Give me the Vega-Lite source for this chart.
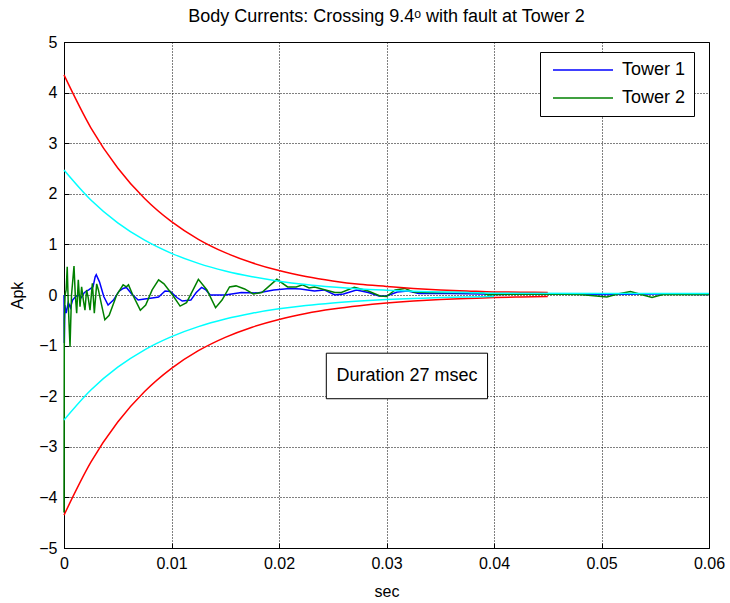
{
  "$schema": "https://vega.github.io/schema/vega-lite/v6.json",
  "autosize": "none",
  "width": 645,
  "height": 506,
  "padding": {"left": 64, "top": 42, "right": 21, "bottom": 55},
  "background": "white",
  "config": {
    "font": "Liberation Sans",
    "view": {"stroke": "black", "strokeWidth": 1},
    "axis": {
      "domainColor": "black", "tickColor": "black", "labelColor": "black", "titleColor": "black",
      "labelFontSize": 16, "titleFontSize": 16, "titleFontWeight": "normal",
      "grid": true, "gridColor": "black", "gridDash": [1, 2], "gridOpacity": 1, "gridWidth": 1,
      "tickSize": -5, "labelPadding": 12, "labelFlush": false
    }
  },
  "title": {"text": "Body Currents: Crossing 9.4ᵒ with fault at Tower 2", "fontSize": 18, "fontWeight": "normal", "offset": 8, "color": "black"},
  "datasets": {
    "towers": [
      {"t":0,"v":0,"tower":"Tower 1"},{"t":0.00003,"v":-0.95,"tower":"Tower 1"},{"t":0.00008,"v":-0.2,"tower":"Tower 1"},{"t":0.0002,"v":-0.36,"tower":"Tower 1"},{"t":0.0004,"v":-0.15,"tower":"Tower 1"},{"t":0.0006,"v":-0.25,"tower":"Tower 1"},{"t":0.0008,"v":-0.1,"tower":"Tower 1"},{"t":0.001,"v":-0.05,"tower":"Tower 1"},{"t":0.0013,"v":0.0,"tower":"Tower 1"},{"t":0.0016,"v":-0.05,"tower":"Tower 1"},{"t":0.0019,"v":0.05,"tower":"Tower 1"},{"t":0.0023,"v":0.1,"tower":"Tower 1"},{"t":0.0027,"v":0.16,"tower":"Tower 1"},{"t":0.0029,"v":0.36,"tower":"Tower 1"},{"t":0.003,"v":0.4,"tower":"Tower 1"},{"t":0.0033,"v":0.26,"tower":"Tower 1"},{"t":0.0037,"v":-0.03,"tower":"Tower 1"},{"t":0.0041,"v":-0.2,"tower":"Tower 1"},{"t":0.0046,"v":-0.1,"tower":"Tower 1"},{"t":0.0051,"v":0.07,"tower":"Tower 1"},{"t":0.0055,"v":0.13,"tower":"Tower 1"},{"t":0.0058,"v":0.15,"tower":"Tower 1"},{"t":0.0063,"v":0.02,"tower":"Tower 1"},{"t":0.0069,"v":-0.1,"tower":"Tower 1"},{"t":0.0075,"v":-0.08,"tower":"Tower 1"},{"t":0.0082,"v":-0.06,"tower":"Tower 1"},{"t":0.0088,"v":-0.04,"tower":"Tower 1"},{"t":0.0094,"v":0.08,"tower":"Tower 1"},{"t":0.0099,"v":0.07,"tower":"Tower 1"},{"t":0.0105,"v":-0.05,"tower":"Tower 1"},{"t":0.011,"v":-0.12,"tower":"Tower 1"},{"t":0.0118,"v":-0.1,"tower":"Tower 1"},{"t":0.0123,"v":0.05,"tower":"Tower 1"},{"t":0.0128,"v":0.15,"tower":"Tower 1"},{"t":0.0132,"v":0.1,"tower":"Tower 1"},{"t":0.0136,"v":0.0,"tower":"Tower 1"},{"t":0.015,"v":0.0,"tower":"Tower 1"},{"t":0.0165,"v":0.05,"tower":"Tower 1"},{"t":0.018,"v":0.04,"tower":"Tower 1"},{"t":0.0195,"v":0.1,"tower":"Tower 1"},{"t":0.021,"v":0.13,"tower":"Tower 1"},{"t":0.022,"v":0.12,"tower":"Tower 1"},{"t":0.0233,"v":0.08,"tower":"Tower 1"},{"t":0.0242,"v":0.1,"tower":"Tower 1"},{"t":0.0252,"v":0.0,"tower":"Tower 1"},{"t":0.026,"v":0.02,"tower":"Tower 1"},{"t":0.0272,"v":0.1,"tower":"Tower 1"},{"t":0.0283,"v":0.05,"tower":"Tower 1"},{"t":0.0293,"v":-0.02,"tower":"Tower 1"},{"t":0.03,"v":-0.02,"tower":"Tower 1"},{"t":0.031,"v":0.06,"tower":"Tower 1"},{"t":0.032,"v":0.08,"tower":"Tower 1"},{"t":0.033,"v":0.03,"tower":"Tower 1"},{"t":0.036,"v":0.03,"tower":"Tower 1"},{"t":0.039,"v":0.02,"tower":"Tower 1"},{"t":0.04,"v":0.01,"tower":"Tower 1"},{"t":0.045,"v":0.02,"tower":"Tower 1"},{"t":0.05,"v":0.01,"tower":"Tower 1"},{"t":0.055,"v":0.02,"tower":"Tower 1"},{"t":0.06,"v":0.01,"tower":"Tower 1"},
      {"t":0,"v":-4.3,"tower":"Tower 2"},{"t":0.00003,"v":-0.5,"tower":"Tower 2"},{"t":0.0001,"v":0.0,"tower":"Tower 2"},{"t":0.0002,"v":0.1,"tower":"Tower 2"},{"t":0.0003,"v":0.56,"tower":"Tower 2"},{"t":0.0004,"v":-0.2,"tower":"Tower 2"},{"t":0.00056,"v":-1.02,"tower":"Tower 2"},{"t":0.0007,"v":0.0,"tower":"Tower 2"},{"t":0.00093,"v":0.57,"tower":"Tower 2"},{"t":0.00105,"v":0.0,"tower":"Tower 2"},{"t":0.00118,"v":-0.36,"tower":"Tower 2"},{"t":0.00133,"v":0.3,"tower":"Tower 2"},{"t":0.00149,"v":-0.23,"tower":"Tower 2"},{"t":0.00164,"v":0.16,"tower":"Tower 2"},{"t":0.0018,"v":-0.1,"tower":"Tower 2"},{"t":0.00195,"v":-0.3,"tower":"Tower 2"},{"t":0.0021,"v":0.1,"tower":"Tower 2"},{"t":0.00225,"v":-0.05,"tower":"Tower 2"},{"t":0.00242,"v":-0.3,"tower":"Tower 2"},{"t":0.00264,"v":0.23,"tower":"Tower 2"},{"t":0.00282,"v":-0.36,"tower":"Tower 2"},{"t":0.00304,"v":0.22,"tower":"Tower 2"},{"t":0.0032,"v":0.1,"tower":"Tower 2"},{"t":0.0035,"v":-0.2,"tower":"Tower 2"},{"t":0.0038,"v":-0.49,"tower":"Tower 2"},{"t":0.0042,"v":-0.4,"tower":"Tower 2"},{"t":0.0049,"v":0.0,"tower":"Tower 2"},{"t":0.0055,"v":0.2,"tower":"Tower 2"},{"t":0.0058,"v":0.16,"tower":"Tower 2"},{"t":0.006,"v":0.2,"tower":"Tower 2"},{"t":0.0064,"v":0.0,"tower":"Tower 2"},{"t":0.0071,"v":-0.3,"tower":"Tower 2"},{"t":0.0076,"v":-0.2,"tower":"Tower 2"},{"t":0.0082,"v":0.1,"tower":"Tower 2"},{"t":0.0088,"v":0.3,"tower":"Tower 2"},{"t":0.0093,"v":0.22,"tower":"Tower 2"},{"t":0.0101,"v":0.0,"tower":"Tower 2"},{"t":0.0108,"v":-0.22,"tower":"Tower 2"},{"t":0.0114,"v":-0.15,"tower":"Tower 2"},{"t":0.0125,"v":0.31,"tower":"Tower 2"},{"t":0.0133,"v":0.1,"tower":"Tower 2"},{"t":0.0141,"v":-0.25,"tower":"Tower 2"},{"t":0.0147,"v":-0.1,"tower":"Tower 2"},{"t":0.0154,"v":0.16,"tower":"Tower 2"},{"t":0.016,"v":0.18,"tower":"Tower 2"},{"t":0.0168,"v":0.12,"tower":"Tower 2"},{"t":0.0176,"v":0.02,"tower":"Tower 2"},{"t":0.0184,"v":0.05,"tower":"Tower 2"},{"t":0.0198,"v":0.31,"tower":"Tower 2"},{"t":0.0208,"v":0.16,"tower":"Tower 2"},{"t":0.0216,"v":0.16,"tower":"Tower 2"},{"t":0.0222,"v":0.2,"tower":"Tower 2"},{"t":0.0228,"v":0.14,"tower":"Tower 2"},{"t":0.0233,"v":0.16,"tower":"Tower 2"},{"t":0.0252,"v":0.05,"tower":"Tower 2"},{"t":0.0258,"v":0.05,"tower":"Tower 2"},{"t":0.027,"v":0.15,"tower":"Tower 2"},{"t":0.0283,"v":0.08,"tower":"Tower 2"},{"t":0.0294,"v":-0.02,"tower":"Tower 2"},{"t":0.03,"v":-0.03,"tower":"Tower 2"},{"t":0.0308,"v":0.1,"tower":"Tower 2"},{"t":0.0317,"v":0.13,"tower":"Tower 2"},{"t":0.0325,"v":0.06,"tower":"Tower 2"},{"t":0.034,"v":0.05,"tower":"Tower 2"},{"t":0.0378,"v":0.05,"tower":"Tower 2"},{"t":0.039,"v":0.04,"tower":"Tower 2"},{"t":0.0395,"v":0.0,"tower":"Tower 2"},{"t":0.04,"v":0.01,"tower":"Tower 2"},{"t":0.045,"v":0.02,"tower":"Tower 2"},{"t":0.048,"v":0.01,"tower":"Tower 2"},{"t":0.0505,"v":-0.04,"tower":"Tower 2"},{"t":0.0515,"v":0.02,"tower":"Tower 2"},{"t":0.0527,"v":0.07,"tower":"Tower 2"},{"t":0.0537,"v":0.01,"tower":"Tower 2"},{"t":0.0547,"v":-0.05,"tower":"Tower 2"},{"t":0.0557,"v":0.01,"tower":"Tower 2"},{"t":0.06,"v":0.01,"tower":"Tower 2"}
    ],
    "env": [
      {"t":0,"v":4.35,"band":"red","side":"upper"},{"t":0.0025,"v":3.305,"band":"red","side":"upper"},{"t":0.005,"v":2.511,"band":"red","side":"upper"},{"t":0.0075,"v":1.908,"band":"red","side":"upper"},{"t":0.01,"v":1.45,"band":"red","side":"upper"},{"t":0.0125,"v":1.101,"band":"red","side":"upper"},{"t":0.015,"v":0.837,"band":"red","side":"upper"},{"t":0.0175,"v":0.636,"band":"red","side":"upper"},{"t":0.02,"v":0.483,"band":"red","side":"upper"},{"t":0.0225,"v":0.367,"band":"red","side":"upper"},{"t":0.025,"v":0.279,"band":"red","side":"upper"},{"t":0.0275,"v":0.212,"band":"red","side":"upper"},{"t":0.03,"v":0.17,"band":"red","side":"upper"},{"t":0.0325,"v":0.13,"band":"red","side":"upper"},{"t":0.035,"v":0.1,"band":"red","side":"upper"},{"t":0.0375,"v":0.08,"band":"red","side":"upper"},{"t":0.04,"v":0.06,"band":"red","side":"upper"},{"t":0.0425,"v":0.055,"band":"red","side":"upper"},{"t":0.045,"v":0.05,"band":"red","side":"upper"},
      {"t":0,"v":-4.35,"band":"red","side":"lower"},{"t":0.0025,"v":-3.305,"band":"red","side":"lower"},{"t":0.005,"v":-2.511,"band":"red","side":"lower"},{"t":0.0075,"v":-1.908,"band":"red","side":"lower"},{"t":0.01,"v":-1.45,"band":"red","side":"lower"},{"t":0.0125,"v":-1.101,"band":"red","side":"lower"},{"t":0.015,"v":-0.837,"band":"red","side":"lower"},{"t":0.0175,"v":-0.636,"band":"red","side":"lower"},{"t":0.02,"v":-0.483,"band":"red","side":"lower"},{"t":0.0225,"v":-0.367,"band":"red","side":"lower"},{"t":0.025,"v":-0.279,"band":"red","side":"lower"},{"t":0.0275,"v":-0.212,"band":"red","side":"lower"},{"t":0.03,"v":-0.16,"band":"red","side":"lower"},{"t":0.0325,"v":-0.12,"band":"red","side":"lower"},{"t":0.035,"v":-0.09,"band":"red","side":"lower"},{"t":0.0375,"v":-0.07,"band":"red","side":"lower"},{"t":0.04,"v":-0.05,"band":"red","side":"lower"},{"t":0.0425,"v":-0.04,"band":"red","side":"lower"},{"t":0.045,"v":-0.03,"band":"red","side":"lower"},
      {"t":0,"v":2.47,"band":"cyan","side":"upper"},{"t":0.0025,"v":1.877,"band":"cyan","side":"upper"},{"t":0.005,"v":1.426,"band":"cyan","side":"upper"},{"t":0.0075,"v":1.083,"band":"cyan","side":"upper"},{"t":0.01,"v":0.823,"band":"cyan","side":"upper"},{"t":0.0125,"v":0.625,"band":"cyan","side":"upper"},{"t":0.015,"v":0.475,"band":"cyan","side":"upper"},{"t":0.0175,"v":0.361,"band":"cyan","side":"upper"},{"t":0.02,"v":0.274,"band":"cyan","side":"upper"},{"t":0.0225,"v":0.208,"band":"cyan","side":"upper"},{"t":0.025,"v":0.158,"band":"cyan","side":"upper"},{"t":0.0275,"v":0.12,"band":"cyan","side":"upper"},{"t":0.03,"v":0.095,"band":"cyan","side":"upper"},{"t":0.0325,"v":0.075,"band":"cyan","side":"upper"},{"t":0.035,"v":0.06,"band":"cyan","side":"upper"},{"t":0.0375,"v":0.05,"band":"cyan","side":"upper"},{"t":0.04,"v":0.035,"band":"cyan","side":"upper"},{"t":0.06,"v":0.03,"band":"cyan","side":"upper"},
      {"t":0,"v":-2.47,"band":"cyan","side":"lower"},{"t":0.0025,"v":-1.877,"band":"cyan","side":"lower"},{"t":0.005,"v":-1.426,"band":"cyan","side":"lower"},{"t":0.0075,"v":-1.083,"band":"cyan","side":"lower"},{"t":0.01,"v":-0.823,"band":"cyan","side":"lower"},{"t":0.0125,"v":-0.625,"band":"cyan","side":"lower"},{"t":0.015,"v":-0.475,"band":"cyan","side":"lower"},{"t":0.0175,"v":-0.361,"band":"cyan","side":"lower"},{"t":0.02,"v":-0.274,"band":"cyan","side":"lower"},{"t":0.0225,"v":-0.208,"band":"cyan","side":"lower"},{"t":0.025,"v":-0.158,"band":"cyan","side":"lower"},{"t":0.0275,"v":-0.12,"band":"cyan","side":"lower"},{"t":0.03,"v":-0.09,"band":"cyan","side":"lower"},{"t":0.0325,"v":-0.07,"band":"cyan","side":"lower"},{"t":0.035,"v":-0.05,"band":"cyan","side":"lower"},{"t":0.0375,"v":-0.04,"band":"cyan","side":"lower"},{"t":0.04,"v":-0.03,"band":"cyan","side":"lower"}
    ],
    "note": [
      {"t1":0.0244,"t2":0.0394,"v1":-1.15,"v2":-2.05,"tc":0.0319,"vc":-1.6,"label":"Duration 27 msec"}
    ]
  },
  "layer": [
    {
      "data": {"name": "towers"},
      "mark": {"type": "line", "strokeWidth": 1.5, "interpolate": "linear"},
      "encoding": {
        "x": {"field": "t", "type": "quantitative",
              "scale": {"domain": [0, 0.06], "nice": false, "zero": false},
              "axis": {"values": [0, 0.01, 0.02, 0.03, 0.04, 0.05, 0.06], "format": ".2~f", "title": "sec", "titlePadding": 12}},
        "y": {"field": "v", "type": "quantitative",
              "scale": {"domain": [-5, 5], "nice": false},
              "axis": {"values": [-5, -4, -3, -2, -1, 0, 1, 2, 3, 4, 5], "format": "d", "title": "Apk", "titlePadding": 13}},
        "color": {"field": "tower", "type": "nominal",
                  "scale": {"domain": ["Tower 1", "Tower 2"], "range": ["#0000ff", "#008000"]},
                  "legend": {"title": null, "orient": "none", "legendX": 476, "legendY": 10,
                             "symbolType": "stroke", "symbolSize": 3600, "symbolStrokeWidth": 1.5,
                             "labelFontSize": 18, "labelColor": "black", "strokeColor": "black", "fillColor": "white",
                             "padding": 8, "symbolOffset": 4, "labelOffset": 8, "clipHeight": 20, "rowPadding": 8}},
        "order": {"field": "t", "type": "quantitative"}
      }
    },
    {
      "data": {"name": "env"},
      "transform": [{"filter": "datum.band == 'red'"}],
      "mark": {"type": "line", "color": "#ff0000", "strokeWidth": 1.5, "interpolate": "monotone"},
      "encoding": {
        "x": {"field": "t", "type": "quantitative"},
        "y": {"field": "v", "type": "quantitative"},
        "detail": {"field": "side"}
      }
    },
    {
      "data": {"name": "env"},
      "transform": [{"filter": "datum.band == 'cyan'"}],
      "mark": {"type": "line", "color": "#00ffff", "strokeWidth": 1.5, "interpolate": "monotone"},
      "encoding": {
        "x": {"field": "t", "type": "quantitative"},
        "y": {"field": "v", "type": "quantitative"},
        "detail": {"field": "side"}
      }
    },
    {
      "data": {"name": "note"},
      "mark": {"type": "rect", "fill": "white", "stroke": "black", "strokeWidth": 1},
      "encoding": {
        "x": {"field": "t1", "type": "quantitative"},
        "x2": {"field": "t2"},
        "y": {"field": "v1", "type": "quantitative"},
        "y2": {"field": "v2"}
      }
    },
    {
      "data": {"name": "note"},
      "mark": {"type": "text", "fontSize": 18, "color": "black", "align": "center", "baseline": "middle"},
      "encoding": {
        "x": {"field": "tc", "type": "quantitative"},
        "y": {"field": "vc", "type": "quantitative"},
        "text": {"field": "label"}
      }
    }
  ]
}
